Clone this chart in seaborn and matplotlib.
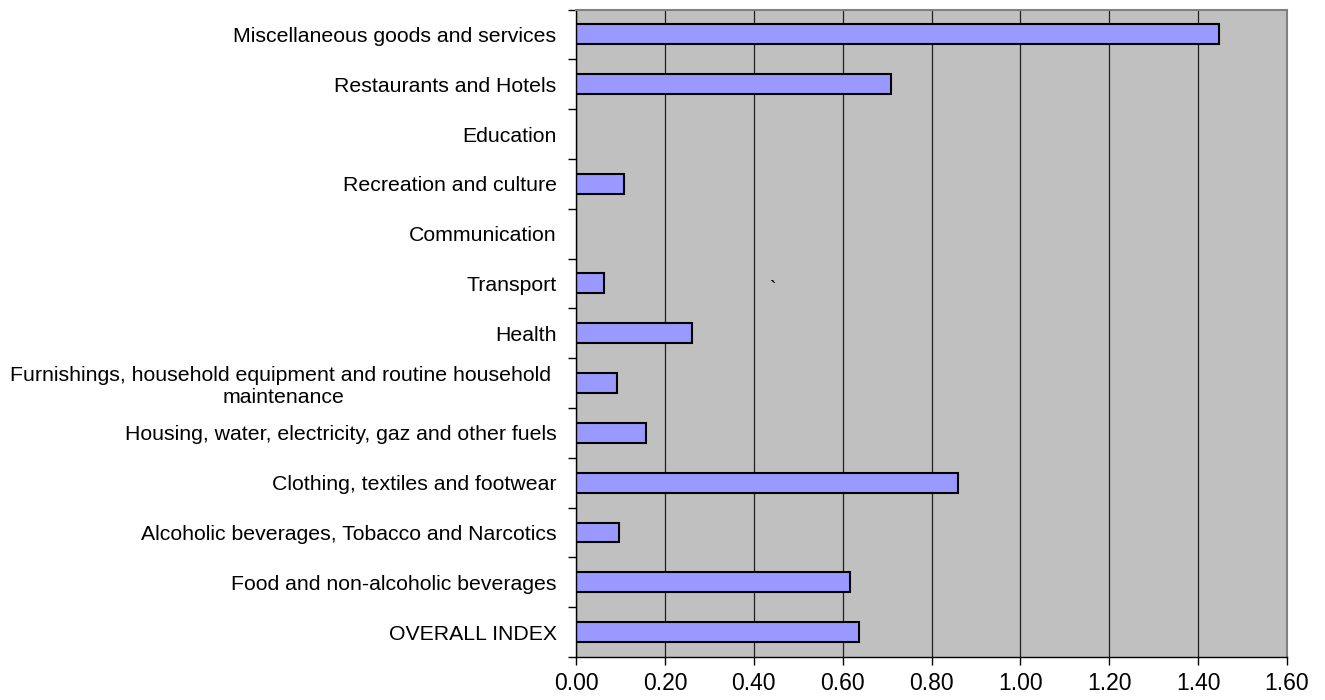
import numpy as np
import pandas as pd
import matplotlib
matplotlib.use("Agg")
import matplotlib.pyplot as plt
import seaborn as sns

categories = [
    "Miscellaneous goods and services",
    "Restaurants and Hotels",
    "Education",
    "Recreation and culture",
    "Communication",
    "Transport",
    "Health",
    "Furnishings, household equipment and routine household \nmaintenance",
    "Housing, water, electricity, gaz and other fuels",
    "Clothing, textiles and footwear",
    "Alcoholic beverages, Tobacco and Narcotics",
    "Food and non-alcoholic beverages",
    "OVERALL INDEX",
]
values = [1.448, 0.709, np.nan, 0.107, np.nan, 0.064, 0.260, 0.092, 0.157, 0.860, 0.0975, 0.617, 0.636]
x_ticks = [0.0, 0.2, 0.4, 0.6, 0.8, 1.0, 1.2, 1.4, 1.6]
x_tick_labels = ["0.00", "0.20", "0.40", "0.60", "0.80", "1.00", "1.20", "1.40", "1.60"]

sns.set_style("white")
plt.rcParams['font.family'] = ['Liberation Sans', 'DejaVu Sans']
plt.rcParams['text.color'] = 'black'
plt.rcParams['xtick.color'] = 'black'
plt.rcParams['ytick.color'] = 'black'

df = pd.DataFrame({"category": categories, "value": values})

fig = plt.figure(figsize=(13.25, 7.0), dpi=100)
ax = fig.add_axes([576 / 1325, 1 - 657 / 700, (1287 - 576) / 1325, (657 - 9.5) / 700])
ax.set_facecolor("#C0C0C0")

sns.barplot(data=df, x="value", y="category", order=categories, orient="h",
            color="#9999FF", saturation=1, width=0.4, edgecolor="black",
            linewidth=1.5, ax=ax, errorbar=None)

ax.set_xlim(0, 1.6)
ax.set_ylim(len(categories) - 0.5, -0.5)
ax.set_xticks(x_ticks)
ax.set_xticklabels(x_tick_labels, fontsize=16.5)
ax.set_axisbelow(True)
ax.xaxis.grid(True, color="#202020", linewidth=0.9)
ax.yaxis.grid(False)

# category boundary ticks (major, unlabeled), labels at centres (minor)
ax.set_yticks(np.arange(-0.5, len(categories), 1.0))
ax.set_yticklabels([])
ax.set_yticks(np.arange(len(categories)), minor=True)
ax.set_yticklabels(categories, minor=True, fontsize=15.3, multialignment="center")
ax.tick_params(axis="y", which="major", direction="out", length=6, width=1, color="black", left=True)
ax.tick_params(axis="y", which="minor", length=0, pad=14, labelcolor="black")
ax.tick_params(axis="x", which="major", direction="out", length=6, width=1, color="black",
               bottom=True, pad=5, labelcolor="black")

ax.set_xlabel("")
ax.set_ylabel("")

for side in ["left", "bottom"]:
    ax.spines[side].set_color("black")
    ax.spines[side].set_linewidth(1.0)
for side in ["top", "right"]:
    ax.spines[side].set_visible(True)
    ax.spines[side].set_color("#808080")
    ax.spines[side].set_linewidth(1.5)

ax.text(0.444, 5 + 0.12, "`", fontsize=14, ha="center", va="center", color="black")

fig.savefig("out.png", dpi=100, facecolor="white")
